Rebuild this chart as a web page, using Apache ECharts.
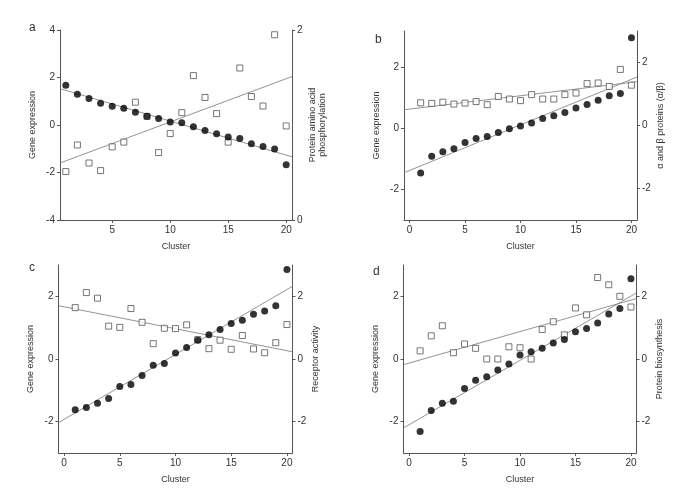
<!DOCTYPE html>
<html>
<head>
<meta charset="utf-8">
<script src="https://cdn.jsdelivr.net/npm/echarts@6/dist/echarts.min.js"></script>
<style>html,body{margin:0;padding:0;background:#fff}#c{width:685px;height:490px}</style>
</head>
<body>
<div id="c"></div>
<script>
const clusters = [1,2,3,4,5,6,7,8,9,10,11,12,13,14,15,16,17,18,19,20];

// Panel a
const aGene = [1.67,1.29,1.12,0.92,0.79,0.71,0.54,0.37,0.27,0.13,0.09,-0.07,-0.23,-0.37,-0.50,-0.57,-0.79,-0.91,-1.01,-1.67];
const aProt = [0.51,0.79,0.60,0.52,0.77,0.82,1.24,1.09,0.71,0.91,1.13,1.52,1.29,1.12,0.82,1.60,1.30,1.20,1.95,0.99];
const aGeneFit = [[0.5,1.53],[20.5,-1.34]];
const aProtFit = [[0.5,0.60],[20.5,1.51]];

// Panel b
const bGene = [-1.46,-0.91,-0.76,-0.66,-0.46,-0.33,-0.26,-0.13,-0.01,0.08,0.18,0.33,0.42,0.53,0.67,0.79,0.93,1.08,1.15,2.98];
const bProt = [0.72,0.70,0.74,0.68,0.71,0.76,0.66,0.92,0.84,0.79,0.98,0.84,0.84,0.98,1.03,1.33,1.35,1.24,1.78,1.28];
const bGeneFit = [[-0.5,-1.45],[20.5,1.69]];
const bProtFit = [[-0.5,0.50],[20.5,1.39]];

// Panel c
const cGene = [-1.62,-1.55,-1.41,-1.26,-0.88,-0.81,-0.53,-0.20,-0.14,0.19,0.37,0.60,0.77,0.94,1.13,1.24,1.43,1.53,1.70,2.86];
const cProt = [1.64,2.12,1.94,1.05,1.01,1.61,1.17,0.49,0.98,0.97,1.09,0.62,0.33,0.60,0.31,0.75,0.32,0.20,0.52,1.10];
const cGeneFit = [[-0.5,-2.03],[20.5,2.32]];
const cProtFit = [[-0.5,1.70],[20.5,0.23]];

// Panel d
const dGene = [-2.31,-1.64,-1.41,-1.35,-0.94,-0.68,-0.57,-0.35,-0.16,0.13,0.23,0.34,0.51,0.62,0.87,0.97,1.15,1.44,1.61,2.56];
const dProt = [0.26,0.74,1.06,0.20,0.48,0.34,0.00,0.00,0.39,0.36,0.00,0.94,1.19,0.77,1.63,1.41,2.60,2.37,2.00,1.66];
const dGeneFit = [[-0.5,-2.20],[20.5,2.11]];
const dProtFit = [[-0.5,-0.18],[20.5,1.93]];

const xTicksA = [5,10,15,20];
const xTicks = [0,5,10,15,20];

const panels = [
  {letter:'a', gene:aGene, prot:aProt, gFit:aGeneFit, pFit:aProtFit, xmin:0.5, xmax:20.5, xt:xTicksA,
   lmin:-4, lmax:4, lt:[-4,-2,0,2,4], rmin:0, rmax:2, rt:[0,2], rname:'Protein amino acid\nphosphorylation', rgap:16,
   grid:{left:60, top:30, width:232, height:190}},
  {letter:'b', gene:bGene, prot:bProt, gFit:bGeneFit, pFit:bProtFit, xmin:-0.5, xmax:20.5, xt:xTicks,
   lmin:-3, lmax:3.2, lt:[-2,0,2], rmin:-3, rmax:3, rt:[-2,0,2], rname:'\u03b1 and \u03b2 proteins (\u03b1/\u03b2)', rgap:19,
   grid:{left:404, top:31, width:233, height:189}},
  {letter:'c', gene:cGene, prot:cProt, gFit:cGeneFit, pFit:cProtFit, xmin:-0.5, xmax:20.5, xt:xTicks,
   lmin:-3, lmax:3, lt:[-2,0,2], rmin:-3, rmax:3, rt:[-2,0,2], rname:'Receptor activity', rgap:18,
   grid:{left:58.5, top:265, width:234, height:188}},
  {letter:'d', gene:dGene, prot:dProt, gFit:dGeneFit, pFit:dProtFit, xmin:-0.5, xmax:20.5, xt:xTicks,
   lmin:-3, lmax:3, lt:[-2,0,2], rmin:-3, rmax:3, rt:[-2,0,2], rname:'Protein biosynthesis', rgap:17,
   grid:{left:403.5, top:265, width:233, height:188}}
];

const AX = '#555';
const TXT = '#333';
const FONT = 'Liberation Sans, Arial, sans-serif';
const FS = 9;
const TFS = 10;

const option = {backgroundColor:'#fff', animation:false, grid:[], xAxis:[], yAxis:[], series:[], title:[]};
const letterPos = [[24,17],[370,29],[24,257],[368,261]];

panels.forEach((p, i) => {
  option.grid.push(Object.assign({containLabel:false}, p.grid));
  option.title.push({text:p.letter, left:letterPos[i][0], top:letterPos[i][1],
    textStyle:{fontSize:12, fontWeight:'normal', color:TXT, fontFamily:FONT}});
  option.xAxis.push({type:'value', gridIndex:i, min:p.xmin, max:p.xmax,
    name:'Cluster', nameLocation:'middle', nameGap:22,
    nameTextStyle:{fontSize:FS, color:TXT, fontFamily:FONT},
    axisLine:{show:true, onZero:false, lineStyle:{color:AX, width:1}},
    axisTick:{show:true, length:3, customValues:p.xt, lineStyle:{color:AX}},
    axisLabel:{customValues:p.xt, fontSize:TFS, color:TXT, margin:5, fontFamily:FONT},
    splitLine:{show:false}});
  option.yAxis.push({type:'value', gridIndex:i, position:'left', min:p.lmin, max:p.lmax,
    name:'Gene expression', nameLocation:'middle', nameGap:23, nameRotate:90,
    nameTextStyle:{fontSize:FS, color:TXT, fontFamily:FONT},
    axisLine:{show:true, onZero:false, lineStyle:{color:AX, width:1}},
    axisTick:{show:true, length:3, customValues:p.lt, lineStyle:{color:AX}},
    axisLabel:{customValues:p.lt, fontSize:TFS, color:TXT, margin:5, fontFamily:FONT},
    splitLine:{show:false}});
  option.yAxis.push({type:'value', gridIndex:i, position:'right', min:p.rmin, max:p.rmax,
    name:p.rname, nameLocation:'middle', nameGap:p.rgap, nameRotate:90,
    nameTextStyle:{fontSize:FS, color:TXT, fontFamily:FONT, lineHeight:10},
    axisLine:{show:true, onZero:false, lineStyle:{color:AX, width:1}},
    axisTick:{show:true, length:3, customValues:p.rt, lineStyle:{color:AX}},
    axisLabel:{customValues:p.rt, fontSize:TFS, color:TXT, margin:5, fontFamily:FONT},
    splitLine:{show:false}});
  const xi = i, yl = 2*i, yr = 2*i+1;
  option.series.push({type:'line', xAxisIndex:xi, yAxisIndex:yl, data:p.gFit, symbol:'none',
    lineStyle:{color:'#777', width:0.8}, silent:true, z:1});
  option.series.push({type:'line', xAxisIndex:xi, yAxisIndex:yr, data:p.pFit, symbol:'none',
    lineStyle:{color:'#777', width:0.8}, silent:true, z:1});
  option.series.push({type:'scatter', xAxisIndex:xi, yAxisIndex:yr,
    data:clusters.map((c,k)=>[c, p.prot[k]]), symbol:'rect', symbolSize:6,
    itemStyle:{color:'#fff', borderColor:'#555', borderWidth:1}, z:2});
  option.series.push({type:'scatter', xAxisIndex:xi, yAxisIndex:yl,
    data:clusters.map((c,k)=>[c, p.gene[k]]), symbol:'circle', symbolSize:7,
    itemStyle:{color:'#000'}, z:3});
});

const chart = echarts.init(document.getElementById('c'), null, {renderer:'canvas'});
chart.setOption(option);
</script>
</body>
</html>
